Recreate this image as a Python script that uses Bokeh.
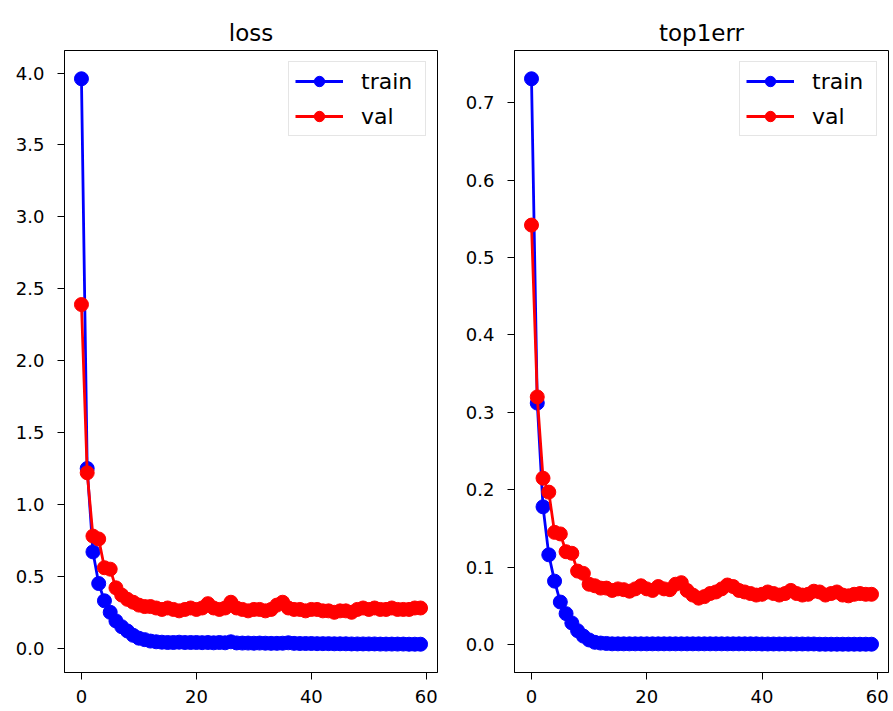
from bokeh.plotting import figure
from bokeh.layouts import row
from bokeh.models import Range1d, FixedTicker, NumeralTickFormatter, Legend, LegendItem
from bokeh.embed import file_html
from bokeh.resources import INLINE

epochs = list(range(60))

train_loss = [3.96, 1.25, 0.67, 0.45, 0.33, 0.25, 0.19, 0.15, 0.12, 0.09,
              0.07, 0.06, 0.05, 0.045, 0.042, 0.040, 0.040, 0.042, 0.040, 0.040,
              0.040, 0.039, 0.040, 0.038, 0.040, 0.038, 0.045, 0.037, 0.036, 0.036,
              0.035, 0.036, 0.035, 0.034, 0.034, 0.035, 0.038, 0.034, 0.033, 0.033,
              0.033, 0.032, 0.032, 0.032, 0.031, 0.031, 0.031, 0.030, 0.030, 0.030,
              0.030, 0.030, 0.029, 0.029, 0.029, 0.029, 0.029, 0.028, 0.028, 0.028]

val_loss = [2.39, 1.22, 0.78, 0.76, 0.56, 0.55, 0.42, 0.37, 0.34, 0.32,
            0.30, 0.29, 0.29, 0.28, 0.27, 0.28, 0.27, 0.26, 0.27, 0.28,
            0.27, 0.28, 0.31, 0.28, 0.27, 0.28, 0.32, 0.28, 0.27, 0.26,
            0.27, 0.27, 0.26, 0.27, 0.30, 0.32, 0.28, 0.27, 0.27, 0.26,
            0.27, 0.27, 0.26, 0.26, 0.25, 0.26, 0.26, 0.25, 0.27, 0.28,
            0.27, 0.28, 0.27, 0.27, 0.28, 0.27, 0.27, 0.27, 0.28, 0.28]

train_top1err = [0.731, 0.312, 0.178, 0.116, 0.082, 0.055, 0.040, 0.028, 0.018, 0.011,
                 0.006, 0.003, 0.002, 0.0015, 0.001, 0.001, 0.001, 0.001, 0.001, 0.001,
                 0.001, 0.001, 0.001, 0.001, 0.001, 0.001, 0.001, 0.001, 0.001, 0.001,
                 0.001, 0.001, 0.001, 0.001, 0.001, 0.001, 0.001, 0.001, 0.001, 0.001,
                 0.0008, 0.0008, 0.0008, 0.0008, 0.0008, 0.0008, 0.0008, 0.0008, 0.0008, 0.0008,
                 0.0005, 0.0005, 0.0005, 0.0005, 0.0005, 0.0005, 0.0005, 0.0005, 0.0005, 0.0005]

val_top1err = [0.542, 0.320, 0.215, 0.197, 0.145, 0.143, 0.120, 0.118, 0.095, 0.092,
               0.078, 0.076, 0.073, 0.073, 0.070, 0.072, 0.071, 0.069, 0.072, 0.076,
               0.072, 0.070, 0.075, 0.072, 0.071, 0.078, 0.080, 0.070, 0.064, 0.060,
               0.062, 0.066, 0.068, 0.072, 0.077, 0.075, 0.070, 0.068, 0.066, 0.064,
               0.065, 0.068, 0.066, 0.064, 0.066, 0.070, 0.066, 0.064, 0.065, 0.069,
               0.068, 0.064, 0.066, 0.068, 0.064, 0.063, 0.065, 0.066, 0.065, 0.065]

x_ticks = [0, 20, 40, 60]
loss_yticks = [0.0, 0.5, 1.0, 1.5, 2.0, 2.5, 3.0, 3.5, 4.0]
top1_yticks = [0.0, 0.1, 0.2, 0.3, 0.4, 0.5, 0.6, 0.7]

series_labels = ["train", "val"]
series_colors = ["#0000ff", "#ff0000"]

FONT = "DejaVu Sans"


def make(title, train, val, yticks, mbl, mbr, fw):
    lo = min(min(train), min(val))
    hi = max(max(train), max(val))
    span = hi - lo
    xs = 59
    p = figure(frame_width=fw, frame_height=622,
               output_backend="svg", toolbar_location=None,
               x_range=Range1d(-0.05 * xs, xs * 1.05),
               y_range=Range1d(lo - 0.05 * span, hi + 0.05 * span),
               min_border_left=mbl, min_border_right=mbr,
               min_border_top=50, min_border_bottom=30)
    p.title.text = title
    p.title.align = "center"
    p.title.text_font = FONT
    p.title.text_font_size = "23px"
    p.title.text_font_style = "normal"
    p.title.text_color = "black"
    p.grid.visible = False
    p.outline_line_color = "black"
    p.outline_line_alpha = 1.0
    p.outline_line_width = 1
    p.background_fill_color = "white"
    p.border_fill_color = "white"

    p.xaxis.ticker = FixedTicker(ticks=x_ticks)
    p.yaxis.ticker = FixedTicker(ticks=yticks)
    p.yaxis.formatter = NumeralTickFormatter(format="0.0")
    for ax in (p.xaxis, p.yaxis):
        ax.minor_tick_line_color = None
        ax.major_tick_in = 0
        ax.major_tick_out = 7
        ax.major_tick_line_color = "black"
        ax.axis_line_color = "black"
        ax.major_label_text_font = FONT
        ax.major_label_text_font_size = "18px"
        ax.major_label_text_color = "black"
    p.yaxis.major_label_standoff = 13
    p.xaxis.major_label_standoff = 10

    items = []
    for data, lab, col in zip([train, val], series_labels, series_colors):
        ln = p.line(epochs, data, line_color=col, line_width=2.8)
        sc = p.scatter(epochs, data, size=14, fill_color=col, line_color=col)
        items.append(LegendItem(label=lab, renderers=[ln, sc]))

    legend = Legend(items=items, location="top_right")
    legend.margin = 11
    legend.padding = 6
    legend.spacing = 9
    legend.glyph_width = 48
    legend.glyph_height = 26
    legend.label_standoff = 18
    legend.label_width = 58
    legend.label_text_font = FONT
    legend.label_text_font_size = "22px"
    legend.label_text_color = "black"
    legend.border_line_color = "#cccccc"
    legend.border_line_width = 1
    legend.background_fill_alpha = 0.8
    p.add_layout(legend)
    return p


p1 = make("loss", train_loss, val_loss, loss_yticks, 64, 20, 373)
p2 = make("top1err", train_top1err, val_top1err, top1_yticks, 57, 1, 374)

layout = row(p1, p2)

open("out.html", "w").write(file_html(layout, INLINE))
